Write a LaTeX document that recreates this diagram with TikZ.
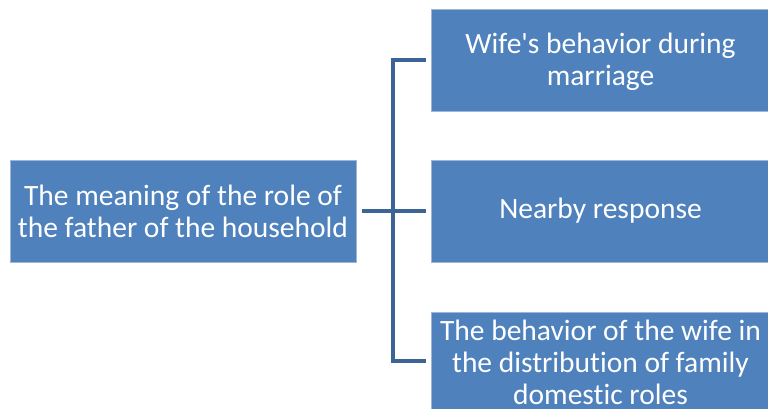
\documentclass[tikz,border=0pt]{standalone}
\usepackage{fontspec}
\newfontfamily\boxfont{Carlito}[Ligatures=NoCommon]
\definecolor{boxfill}{HTML}{4F81BD}
\definecolor{boxline}{HTML}{9DB6DA}
\definecolor{conn}{HTML}{3C6497}
\tikzset{
  box/.style={fill=boxfill, draw=boxline, line width=0.8pt, text=white, align=center,
    inner sep=0pt, font=\boxfont\fontsize{29.5}{32}\selectfont},
  conline/.style={draw=conn, line width=4.5pt, line cap=butt, line join=miter}
}
\begin{document}
\begin{tikzpicture}[x=1pt,y=-1pt]
\useasboundingbox (0,0) rectangle (768,408);
\node[box, minimum width=346pt, minimum height=102pt] (root) at (183,211) {The meaning of the role of\\the father of the household};
\node[box, minimum width=339pt, minimum height=102pt, text depth=2pt] (a) at (600.5,60) {Wife's behavior during\\marriage};
\node[box, minimum width=339pt, minimum height=102pt] (b) at (600.5,211) {Nearby response};
\node[box, minimum width=339pt, minimum height=100pt] (c) at (600.5,362) {The behavior of the wife in\\the distribution of family\\domestic roles};
\coordinate (j) at (393,211);
\coordinate (jt) at (393,60);
\coordinate (jb) at (393,361);
\draw[conline] ([xshift=6pt]root.east) -- (j);
\draw[conline] ([xshift=-5pt]a.west) -- (jt) -- (jb) -- ([xshift=-5pt]c.west |- jb);
\draw[conline] (j) -- ([xshift=-5pt]b.west);
\end{tikzpicture}
\end{document}
